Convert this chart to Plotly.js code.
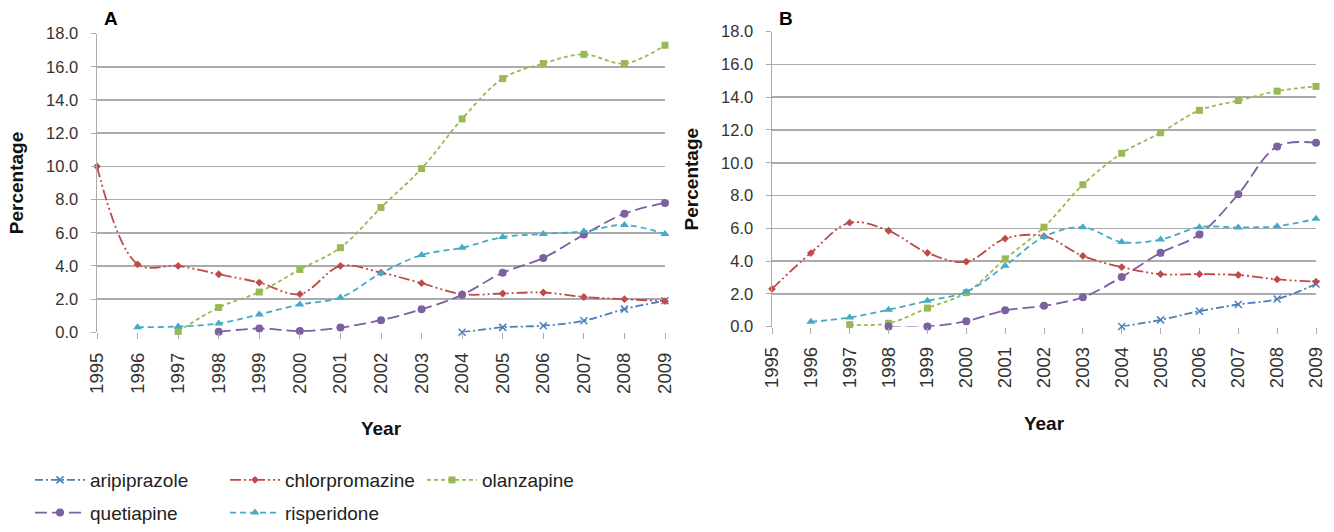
<!DOCTYPE html>
<html>
<head>
<meta charset="utf-8">
<script src="https://cdn.plot.ly/plotly-3.0.1.min.js"></script>
<style>
html,body{margin:0;padding:0;background:#fff;}
#chart{width:1334px;height:532px;}
</style>
</head>
<body>
<div id="chart"></div>
<script>
const years = [1995,1996,1997,1998,1999,2000,2001,2002,2003,2004,2005,2006,2007,2008,2009];
const yTickVals = [0,2,4,6,8,10,12,14,16,18];
const yTickText = ["0.0","2.0","4.0","6.0","8.0","10.0","12.0","14.0","16.0","18.0"];
const seriesNames = ["aripiprazole","chlorpromazine","olanzapine","quetiapine","risperidone"];

// Panel A
const aAripiprazole   = [null,null,null,null,null,null,null,null,null,0.0,0.3,0.4,0.7,1.4,1.9];
const aChlorpromazine = [10.0,4.1,4.0,3.5,3.0,2.3,4.0,3.6,2.96,2.3,2.34,2.4,2.13,2.0,1.88];
const aOlanzapine     = [null,null,0.05,1.5,2.43,3.79,5.1,7.52,9.87,12.86,15.29,16.2,16.75,16.2,17.3];
const aQuetiapine     = [null,null,null,0.03,0.23,0.08,0.29,0.73,1.39,2.26,3.59,4.48,5.89,7.15,7.8];
const aRisperidone    = [null,0.31,0.35,0.54,1.08,1.68,2.1,3.56,4.66,5.1,5.74,5.93,6.09,6.47,5.93];

// Panel B
const bAripiprazole   = [null,null,null,null,null,null,null,null,null,0.0,0.41,0.94,1.35,1.68,2.6];
const bChlorpromazine = [2.3,4.49,6.34,5.85,4.5,3.96,5.37,5.52,4.31,3.63,3.2,3.2,3.15,2.88,2.74];
const bOlanzapine     = [null,null,0.12,0.2,1.13,2.07,4.13,6.07,8.66,10.58,11.83,13.2,13.8,14.37,14.66];
const bQuetiapine     = [null,null,null,0.0,0.0,0.33,0.99,1.27,1.79,3.03,4.5,5.62,8.08,11.0,11.22];
const bRisperidone    = [null,0.29,0.56,1.03,1.57,2.12,3.71,5.48,6.07,5.16,5.31,6.07,6.05,6.13,6.58];

const styles = {
  aripiprazole:   {color:"#4a7ebb", dash:"8px,3px,2px,3px", symbol:"x-thin-open", size:7, legend:"legend"},
  chlorpromazine: {color:"#be4b48", dash:"11px,3px,2px,3px,2px,3px", symbol:"diamond", size:6, legend:"legend2"},
  olanzapine:     {color:"#98b954", dash:"4px,3px", symbol:"square", size:7, legend:"legend3"},
  quetiapine:     {color:"#7d60a0", dash:"12px,5px", symbol:"circle", size:8, legend:"legend"},
  risperidone:    {color:"#46aac5", dash:"6px,4px", symbol:"triangle-up", size:8, legend:"legend2"}
};

const aData = [aAripiprazole,aChlorpromazine,aOlanzapine,aQuetiapine,aRisperidone];
const bData = [bAripiprazole,bChlorpromazine,bOlanzapine,bQuetiapine,bRisperidone];

function mk(name, vals, xa, ya, show){
  const s = styles[name];
  const isX = s.symbol.indexOf("x-thin")===0;
  return {
    type:"scatter", mode:"lines+markers", name:name, x:years, y:vals,
    xaxis:xa, yaxis:ya, legend:s.legend, legendgroup:name, showlegend:show,
    connectgaps:false, cliponaxis:false,
    line:{color:s.color, width:1.8, dash:s.dash, shape:"spline", smoothing:1},
    marker:{color:s.color, symbol:s.symbol, size:s.size,
            line:{color:s.color, width:isX?1.5:0}}
  };
}
const traces = [];
seriesNames.forEach((n,i)=>traces.push(mk(n,aData[i],"x","y",true)));
seriesNames.forEach((n,i)=>traces.push(mk(n,bData[i],"x2","y2",false)));

const W=1334,H=532;
const gridC="#ababab";
const tickFontY={family:"Liberation Sans, Arial, sans-serif", size:16.5, color:"#333"};
const tickFontX={family:"Liberation Sans, Arial, sans-serif", size:18.5, color:"#333"};
const titleFont={family:"Liberation Sans, Arial, sans-serif", size:19, color:"#111"};

function xax(domain, standoff){
  return {domain:domain, range:[1995,2009], tickmode:"array", tickvals:years, ticktext:years.map(String),
    tickangle:-90, tickfont:tickFontX, showgrid:false, zeroline:false, showline:false,
    ticks:"outside", ticklen:6, tickcolor:gridC, ticklabelstandoff:6, automargin:false,
    title:{text:"<b>Year</b>", font:titleFont, standoff:standoff}};
}
function yax(domain, anchor){
  return {domain:domain, range:[0,18], tickmode:"array", tickvals:yTickVals, ticktext:yTickText,
    tickfont:tickFontY, showgrid:true, gridcolor:gridC, gridwidth:1.5, zeroline:false,
    showline:true, linecolor:gridC, linewidth:1.5, ticks:"outside", ticklen:5, tickcolor:gridC,
    ticklabelstandoff:9, automargin:false, anchor:anchor,
    title:{text:"<b>Percentage</b>", font:titleFont, standoff:17}};
}
const legendFont={family:"Liberation Sans, Arial, sans-serif", size:19, color:"#222"};
function leg(x){
  return {x:x, y:1-480/H, xanchor:"left", yanchor:"top", orientation:"v", font:legendFont,
    bgcolor:"rgba(0,0,0,0)", traceorder:"grouped", tracegroupgap:5, itemwidth:50};
}

const layout = {
  width:W, height:H, paper_bgcolor:"#fff", plot_bgcolor:"#fff",
  margin:{l:0,r:0,t:0,b:0}, showlegend:true,
  font:{family:"Liberation Sans, Arial, sans-serif"},
  xaxis: Object.assign(xax([97/W,665/W],28),{anchor:"y"}),
  yaxis: yax([1-346/H,1-35/H],"x"),
  xaxis2: Object.assign(xax([772/W,1316/W],29),{anchor:"y2"}),
  yaxis2: yax([1-340/H,1-33/H],"x2"),
  legend: leg(30/W),
  legend2: leg(225/W),
  legend3: leg(422/W),
  annotations:[
    {text:"<b>A</b>", xref:"paper", yref:"paper", x:102/W, y:1-19/H, xanchor:"left", yanchor:"middle", showarrow:false, font:{family:"Liberation Sans, Arial, sans-serif", size:19, color:"#000"}},
    {text:"<b>B</b>", xref:"paper", yref:"paper", x:777/W, y:1-19/H, xanchor:"left", yanchor:"middle", showarrow:false, font:{family:"Liberation Sans, Arial, sans-serif", size:19, color:"#000"}}
  ]
};
Plotly.newPlot("chart", traces, layout, {staticPlot:true, displayModeBar:false});
</script>
</body>
</html>
